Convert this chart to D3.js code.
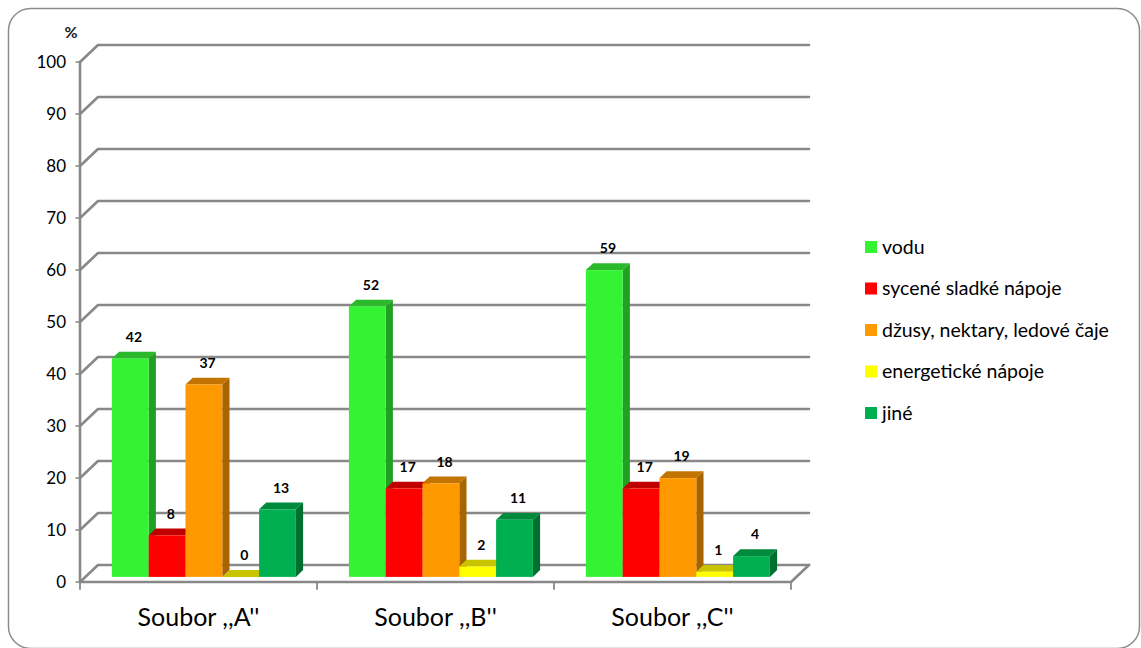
<!DOCTYPE html>
<html>
<head>
<meta charset="utf-8">
<script src="https://cdn.jsdelivr.net/npm/d3@7"></script>
<style>
  html, body { margin: 0; padding: 0; background: #fff; }
  svg { display: block; }
</style>
</head>
<body>
<svg id="chart" width="1141" height="648"></svg>
<script>
// Survey groups and drink categories
const categories = ["Soubor ,,A''", "Soubor ,,B''", "Soubor ,,C''"];
const series = ["vodu", "sycené sladké nápoje", "džusy, nektary, ledové čaje", "energetické nápoje", "jiné"];
// Share of respondents (%) per drink category, one array per series
const vodu = [42, 52, 59];
const sycene = [8, 17, 17];
const dzusy = [37, 18, 19];
const energeticke = [0, 2, 1];
const jine = [13, 11, 4];
const yTicks = [0, 10, 20, 30, 40, 50, 60, 70, 80, 90, 100];

const seriesValues = [vodu, sycene, dzusy, energeticke, jine];
// face / top / side colours for each series
const palette = [
  { face: "#33f333", top: "#2bb82b", side: "#22a022" },
  { face: "#ff0000", top: "#c00000", side: "#a80000" },
  { face: "#ff9900", top: "#c27300", side: "#a86400" },
  { face: "#ffff00", top: "#c8c400", side: "#a8a600" },
  { face: "#00b050", top: "#008a3c", side: "#006f30" }
];

const svg = d3.select("#chart");
const font = "Lato, 'Open Sans', sans-serif";

// outer frame
svg.append("rect")
  .attr("x", 8.5).attr("y", 8.5).attr("width", 1131).attr("height", 640)
  .attr("rx", 22).attr("ry", 22)
  .attr("fill", "#fff").attr("stroke", "#8c8c8c").attr("stroke-width", 1.5);

// 3D projection: depth 0 = front plane, 1 = back wall
const DX = 18, DY = -17;
const proj = (x, y, d) => [x + DX * d, y + DY * d];

const y = d3.scaleLinear().domain([0, 100]).range([582, 62]);
const x = d3.scaleBand().domain(categories).range([80, 791])
  .paddingInner(0.2236).paddingOuter(0.1118);
const xs = d3.scaleBand().domain(series).range([0, x.bandwidth()]);
const boundary = i => 80 + i * x.step();
const xRight = boundary(categories.length);

const grid = svg.append("g").attr("stroke", "#888").attr("stroke-width", 2.6)
  .attr("fill", "none").attr("stroke-linejoin", "round").attr("stroke-linecap", "round");

// back-wall gridlines with diagonals running into the left wall
yTicks.forEach(t => {
  const a = proj(80, y(t), 0), b = proj(80, y(t), 1), c = proj(xRight, y(t), 1);
  grid.append("path").attr("d", d3.line()([a, b, c]));
});
// floor front edge and right edge
grid.append("path").attr("d", d3.line()([proj(80, y(0), 0), proj(xRight, y(0), 0), proj(xRight, y(0), 1)]));
// vertical value axis
grid.append("line").attr("x1", 80).attr("x2", 80).attr("y1", y(100)).attr("y2", y(0));
// value-axis tick marks
yTicks.forEach(t => {
  grid.append("line").attr("x1", 76).attr("x2", 80).attr("y1", y(t)).attr("y2", y(t)).attr("stroke-width", 1.5);
});
// category boundary tick marks
d3.range(categories.length + 1).forEach(i => {
  grid.append("line").attr("x1", boundary(i)).attr("x2", boundary(i))
    .attr("y1", y(0)).attr("y2", y(0) + 7).attr("stroke-width", 1.8);
});

// value axis labels
svg.append("g").selectAll("text").data(yTicks).join("text")
  .attr("x", 66).attr("y", d => y(d)).attr("dy", "0.35em")
  .attr("text-anchor", "end").attr("font-family", font).attr("font-size", 17)
  .attr("fill", "#000").text(d => d);

svg.append("text").attr("x", 71).attr("y", 38).attr("text-anchor", "middle")
  .attr("font-family", font).attr("font-size", 16).attr("font-weight", "bold")
  .attr("fill", "#1a1a1a").text("%");

// category labels
svg.append("g").selectAll("text").data(categories).join("text")
  .attr("x", d => x(d) + x.bandwidth() / 2).attr("y", 626)
  .attr("text-anchor", "middle").attr("font-family", font).attr("font-size", 25)
  .attr("fill", "#000").text(d => d);

// 3D bars: front face at depth d0, back at d1
const d0 = 0.3, d1 = 0.7;
const bars = svg.append("g");
const labels = svg.append("g");
categories.forEach((cat, ci) => {
  series.forEach((s, si) => {
    const v = seriesValues[si][ci];
    const col = palette[si];
    const xl = x(cat) + xs(s), xr = xl + xs.bandwidth();
    const [fx0, fyb] = proj(xl, y(0), d0);
    const [fx1] = proj(xr, y(0), d0);
    const fyt = proj(xl, y(v), d0)[1];
    const [bx0, byt] = proj(xl, y(v), d1);
    const [bx1] = proj(xr, y(v), d1);
    const byb = proj(xr, y(0), d1)[1];
    const g = bars.append("g");
    // side face
    g.append("path").attr("fill", col.side)
      .attr("d", d3.line()([[fx1, fyt], [bx1, byt], [bx1, byb], [fx1, fyb]]) + "Z");
    // top face
    g.append("path").attr("fill", col.top)
      .attr("d", d3.line()([[fx0, fyt], [bx0, byt], [bx1, byt], [fx1, fyt]]) + "Z");
    // front face
    g.append("rect").attr("x", fx0).attr("y", fyt).attr("width", fx1 - fx0)
      .attr("height", Math.max(0, fyb - fyt)).attr("fill", col.face);
    // value label
    labels.append("text")
      .attr("x", (fx0 + bx1) / 2).attr("y", byt - 10)
      .attr("text-anchor", "middle").attr("font-family", font)
      .attr("font-size", 14).attr("font-weight", "bold").attr("fill", "#000")
      .text(v);
  });
});

// legend
const legendY = [247, 288.5, 330, 371.5, 413];
const legend = svg.append("g").selectAll("g").data(series).join("g")
  .attr("transform", (d, i) => `translate(865, ${legendY[i]})`);
legend.append("rect").attr("x", 0).attr("y", -6).attr("width", 12).attr("height", 12)
  .attr("fill", (d, i) => palette[i].face);
legend.append("text").attr("x", 17).attr("y", 0).attr("dy", "0.35em")
  .attr("font-family", font).attr("font-size", 19.5).attr("fill", "#000")
  .text(d => d);
</script>
</body>
</html>
